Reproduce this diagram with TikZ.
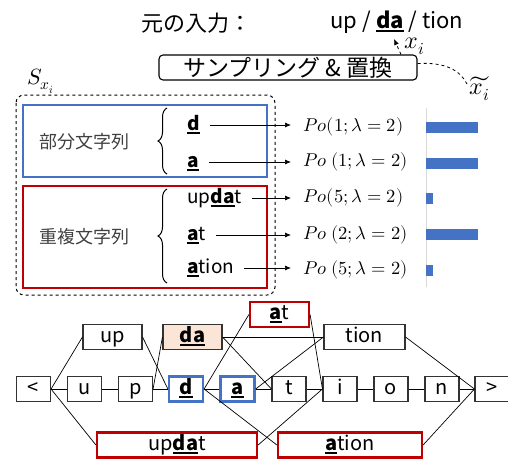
\documentclass[tikz,border=0pt]{standalone}
\usepackage{fontspec}
\usepackage{unicode-math}
\setmainfont{Noto Sans CJK JP}
\setmathfont{Latin Modern Math}
\usetikzlibrary{arrows.meta,decorations.pathreplacing,calc}
\definecolor{myblue}{HTML}{4472C4}
\definecolor{myred}{HTML}{C00000}
\definecolor{mypeach}{HTML}{FBE5D6}
\newcommand\ubf[1]{\leavevmode\setbox0=\hbox{\bfseries #1}\rlap{\rule[-3.5pt]{\wd0}{2pt}}\box0\relax}
\begin{document}
\begin{tikzpicture}[x=1pt,y=-1pt,
  lbox/.style={draw=black!80, line width=1.1pt, minimum height=25pt, inner sep=0pt,
    text height=14pt, text depth=4pt, font=\fontsize{20}{22}\selectfont},
  sbox/.style={lbox, minimum width=34pt},
  bluebox/.style={draw=myblue, line width=2.2pt},
  redbox/.style={draw=myred, line width=2.2pt},
  conn/.style={draw=black, line width=0.7pt},
  arr/.style={draw=black, line width=0.7pt, -{Latex[length=6pt,width=5pt]}},
  po/.style={anchor=west, inner sep=0pt, font=\fontsize{18.5}{20}\selectfont},
  item/.style={anchor=west, inner sep=0pt, font=\fontsize{19}{22}\selectfont, text height=14pt, text depth=4pt},
  jp/.style={inner sep=0pt, font=\fontsize{18}{20}\selectfont, text=black!75},
  bar/.style={fill=myblue},
  brc/.style={decorate, decoration={brace, amplitude=9pt}, line width=1pt},
  mlab/.style={inner sep=0pt, font=\fontsize{24}{26}\selectfont}
]
\useasboundingbox (0,0) rectangle (508,459);

% title
\node[inner sep=0pt, font=\fontsize{22}{24}\selectfont] (title) at (196,23) {元の入力：};
\node[inner sep=0pt, font=\fontsize{22}{24}\selectfont] (orig) at (397,22) {up / \ubf{da} / tion};
\coordinate (daU) at (394,39);
\node[mlab] (xi) at (415,46) {$x_i$};

% sampling box
\node[draw, rounded corners=4pt, line width=1.1pt, minimum width=258pt, minimum height=25pt,
  inner sep=0pt, font=\fontsize{23}{25}\selectfont] (samp) at (288,67.5) {サンプリング \& 置換};
\draw[dashed, line width=0.8pt, -{Latex[length=6pt,width=5pt]}] ([xshift=113pt]samp.north) -- (daU);
\node[mlab] (xt) at (480,89) {$\widetilde{x_i}$};
\draw[dashed, line width=0.8pt] ([yshift=4pt]samp.east) .. controls (445,62) and (460,70) .. (467,84);

% S_xi
\node[mlab, font=\fontsize{22}{24}\selectfont] (S) at (41,81) {$S_{x_i}$};

% dashed outer box
\draw[dashed, line width=1pt, rounded corners=8pt] (16,95) rectangle (275,295);
\draw[myblue, line width=1.6pt] (23,105) rectangle (267,177);
\draw[myred, line width=1.6pt] (23,186) rectangle (267,288);

\node[jp] (bubun) at (84,142) {部分文字列};
\node[jp] (jufuku) at (84,237) {重複文字列};

\draw[brc] (167,174) -- (167,108);
\draw[brc] (167,283) -- (167,189);

\node[item] (i1) at (187,125) {\ubf{d}};
\node[item] (i2) at (187,162) {\ubf{a}};
\node[item] (i3) at (187,198) {up\ubf{da}t};
\node[item] (i4) at (187,235) {\ubf{a}t};
\node[item] (i5) at (187,268) {\ubf{a}tion};

\node[po] (p1) at (303,127) {$Po(1;\lambda=2)$};
\node[po] (p2) at (303,162) {$Po\ (1;\lambda=2)$};
\node[po] (p3) at (303,198) {$Po(5;\lambda=2)$};
\node[po] (p4) at (303,235) {$Po\ (2;\lambda=2)$};
\node[po] (p5) at (303,270) {$Po\ (5;\lambda=2)$};

\draw[arr] ([xshift=10pt]i1.east) -- ([xshift=-12pt]p1.west |- i1.east);
\draw[arr] ([xshift=10pt]i2.east) -- ([xshift=-12pt]p2.west |- i2.east);
\draw[arr] ([xshift=10pt]i3.east) -- ([xshift=-12pt]p3.west |- i3.east);
\draw[arr] ([xshift=10pt]i4.east) -- ([xshift=-12pt]p4.west |- i4.east);
\draw[arr] ([xshift=10pt]i5.east) -- ([xshift=-12pt]p5.west |- i5.east);

% bar chart
\draw[black!15, line width=0.8pt] (426,108) -- (426,287);
\fill[bar] (426,121.5) rectangle (478,132.5);
\fill[bar] (426,157.5) rectangle (478,168.5);
\fill[bar] (426,192.5) rectangle (433,203.5);
\fill[bar] (426,228.5) rectangle (478,239.5);
\fill[bar] (426,264.5) rectangle (433,275.5);

% lattice
\node[sbox] (lt) at (33.5,389) {<};
\node[sbox] (u) at (84.5,389) {u};
\node[sbox] (p) at (135.5,389) {p};
\node[sbox, bluebox] (d) at (186,389) {\ubf{d}};
\node[sbox, bluebox] (a) at (237.5,389) {\ubf{a}};
\node[sbox] (t) at (289,389) {t};
\node[sbox] (i) at (340,389) {i};
\node[sbox] (o) at (391,389) {o};
\node[sbox] (n) at (442,389) {n};
\node[sbox] (gt) at (492,389) {>};

\node[lbox, minimum width=59pt] (up) at (112.5,337) {up};
\node[lbox, minimum width=59pt, fill=mypeach] (da) at (192.5,337) {\ubf{da}};
\node[lbox, minimum width=81pt] (tion) at (364.5,337) {tion};
\node[lbox, redbox, minimum width=59pt] (at) at (279.5,314.5) {\ubf{a}t};
\node[lbox, redbox, minimum width=160pt] (updat) at (177,445) {up\ubf{da}t};
\node[lbox, redbox, minimum width=144pt] (ation) at (350,445) {\ubf{a}tion};

\draw[conn] (lt) -- (u);
\draw[conn] (u) -- (p);
\draw[conn] (p) -- (d);
\draw[conn] (d) -- (a);
\draw[conn] (a) -- (t);
\draw[conn] (t) -- (i);
\draw[conn] (i) -- (o);
\draw[conn] (o) -- (n);
\draw[conn] (n) -- (gt);
\draw[conn] (lt.east) -- (up.west);
\draw[conn] (lt.east) -- (updat.west);
\draw[conn] (up.east) -- (d.west);
\draw[conn] (p.east) -- (da.west);
\draw[conn] (d.east) -- (at.west);
\draw[conn] (d.east) -- (ation.west);
\draw[conn] (da.east) -- (tion.west);
\draw[conn] (da.east) -- (t.west);
\draw[conn] (a.east) -- (tion.west);
\draw[conn] (at.east) -- (i.west);
\draw[conn] (updat.east) -- (i.west);
\draw[conn] (tion.east) -- (gt.west);
\draw[conn] (ation.east) -- (gt.west);
\end{tikzpicture}
\end{document}
